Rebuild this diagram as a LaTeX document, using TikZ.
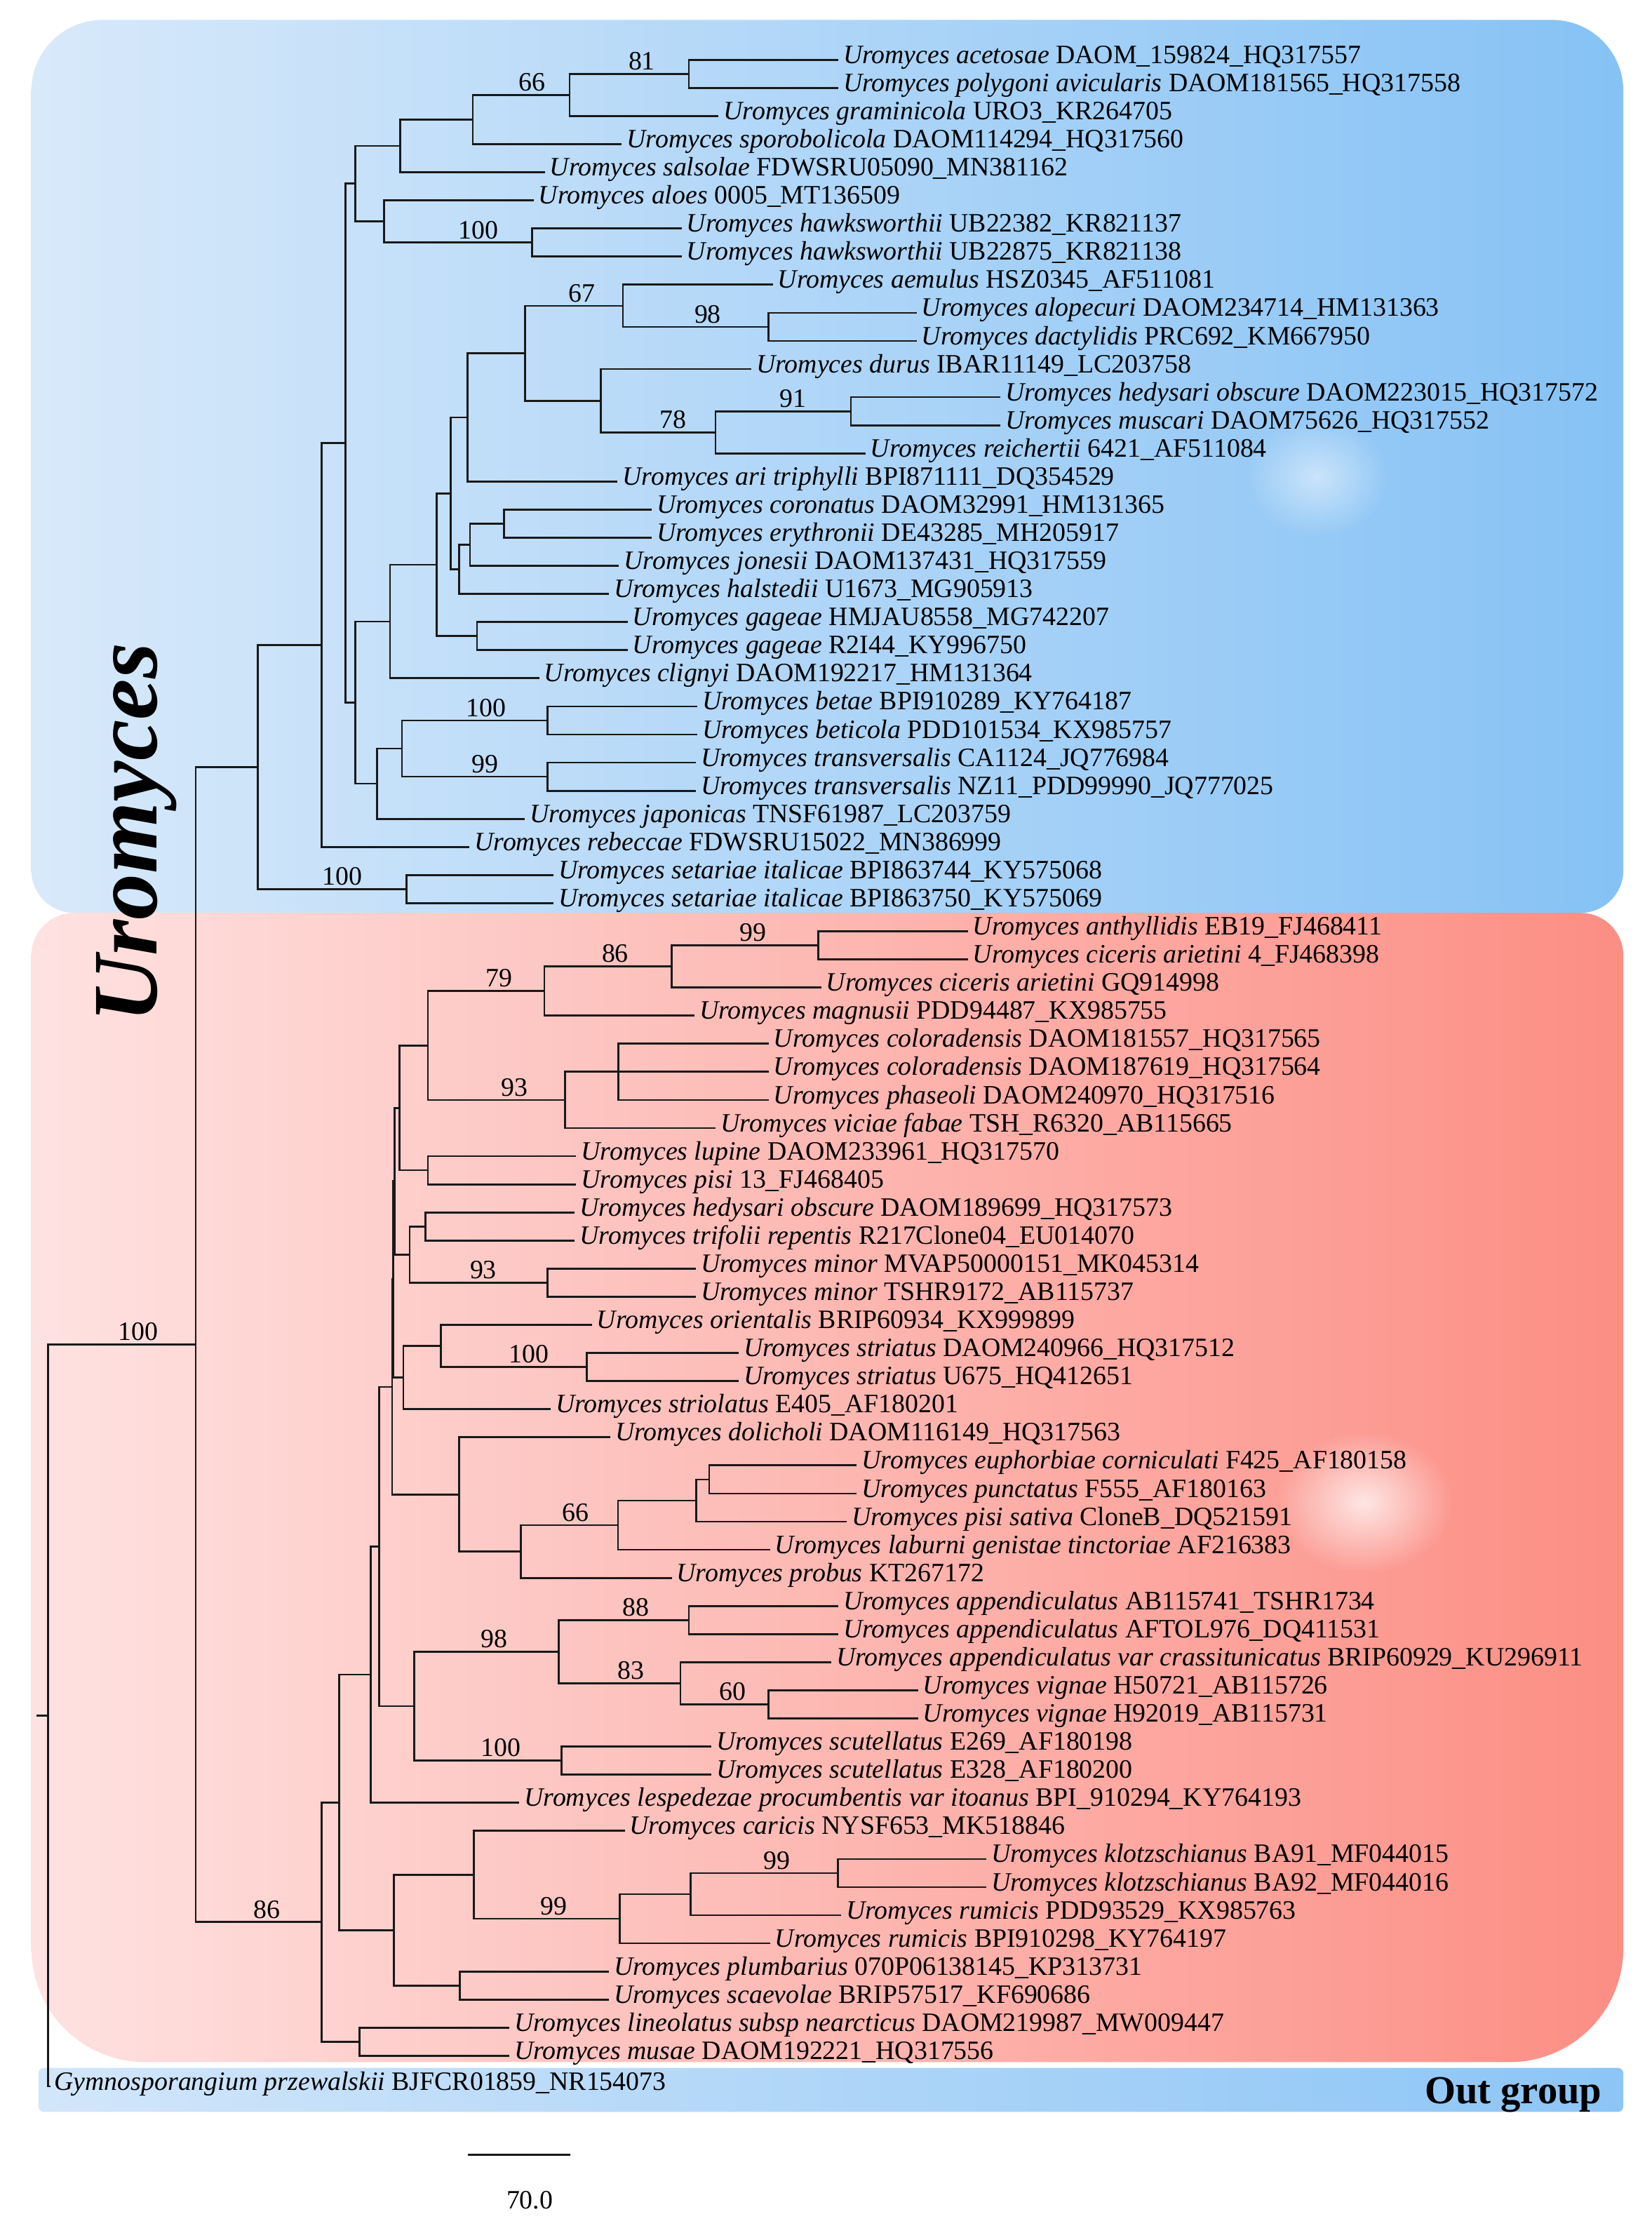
\documentclass[tikz,border=0pt]{standalone}
\usepackage{fontspec}
\setmainfont{Liberation Serif}
\usetikzlibrary{calc,fadings}
\definecolor{blueL}{RGB}{216,233,250}
\definecolor{blueR}{RGB}{134,194,245}
\definecolor{redL}{RGB}{254,226,225}
\definecolor{redR}{RGB}{252,142,132}
\definecolor{outL}{RGB}{210,230,250}
\definecolor{outR}{RGB}{140,197,246}
\definecolor{treecol}{RGB}{25,25,25}
\tikzfading[name=softblob,inner color=transparent!0,outer color=transparent!100]
\newcommand\fs{\fontsize{18.7}{20}\selectfont}
\newcommand\lf[4]{%
  \coordinate (L#1) at ({#2-4},{42+(#1-1)*19.74});
  \node[lab] (T#1) at (#2,{44.5+(#1-1)*19.74}) {\textit{Uromyces #3} #4};}
\newcommand\inode[4]{%
  \path ($(#3)!0.5!(#4)$) coordinate (tmpmid);
  \path let \p1=(tmpmid) in (#2bp,\y1) coordinate (#1);
  \draw[br] (#1) |- (#3);
  \draw[br] (#1) |- (#4);}
\newcommand\inodeT[5]{%
  \path ($(#3)!0.5!(#5)$) coordinate (tmpmid);
  \path let \p1=(tmpmid) in (#2bp,\y1) coordinate (#1);
  \draw[br] (#1) |- (#3);
  \draw[br] (#1) |- (#4);
  \draw[br] (#1) |- (#5);}
\newcommand\bsl[4]{%
  \path let \p1=(#2) in node[bs] (#1) at (#3bp,{\y1+2.8bp}) {#4};}
\begin{document}
\begin{tikzpicture}[x=1bp,y=-1bp,
  br/.style={line width=1.35bp,draw=treecol,line cap=rect},
  lab/.style={anchor=base west,inner sep=0pt,font=\fs},
  bs/.style={anchor=base,inner sep=0pt,font=\fs}]
\useasboundingbox (0,0) rectangle (1160,1568);
% backgrounds
\shade[left color=blueL,right color=blueR]
  (22,611) -- (22,64) arc[start angle=180,end angle=270,radius=50]
  -- (1090,14) arc[start angle=270,end angle=360,radius=50]
  -- (1140,611) arc[start angle=0,end angle=90,radius=30]
  -- (52,641) arc[start angle=90,end angle=180,radius=30] -- cycle;
\shade[left color=redL,right color=redR]
  (22,671) arc[start angle=180,end angle=270,radius=30]
  -- (1110,641) arc[start angle=270,end angle=360,radius=30]
  -- (1140,1368) arc[start angle=0,end angle=90,radius=80]
  -- (102,1448) arc[start angle=90,end angle=180,radius=80] -- cycle;
\shade[left color=outL,right color=outR,rounded corners=4bp] (27,1452) rectangle (1140,1483);
\fill[white,opacity=0.75,path fading=softblob] (958,1055) ellipse [x radius=62,y radius=50];
\fill[white,opacity=0.5,path fading=softblob] (925,335) ellipse [x radius=50,y radius=42];
% leaves
\lf{1}{592}{acetosae}{DAOM\_159824\_HQ317557}
\lf{2}{592}{polygoni avicularis}{DAOM181565\_HQ317558}
\lf{3}{508}{graminicola}{URO3\_KR264705}
\lf{4}{440}{sporobolicola}{DAOM114294\_HQ317560}
\lf{5}{386}{salsolae}{FDWSRU05090\_MN381162}
\lf{6}{378}{aloes}{0005\_MT136509}
\lf{7}{482}{hawksworthii}{UB22382\_KR821137}
\lf{8}{482}{hawksworthii}{UB22875\_KR821138}
\lf{9}{546}{aemulus}{HSZ0345\_AF511081}
\lf{10}{647}{alopecuri}{DAOM234714\_HM131363}
\lf{11}{647}{dactylidis}{PRC692\_KM667950}
\lf{12}{531}{durus}{IBAR11149\_LC203758}
\lf{13}{706}{hedysari obscure}{DAOM223015\_HQ317572}
\lf{14}{706}{muscari}{DAOM75626\_HQ317552}
\lf{15}{611}{reichertii}{6421\_AF511084}
\lf{16}{437}{ari triphylli}{BPI871111\_DQ354529}
\lf{17}{461}{coronatus}{DAOM32991\_HM131365}
\lf{18}{461}{erythronii}{DE43285\_MH205917}
\lf{19}{438}{jonesii}{DAOM137431\_HQ317559}
\lf{20}{431}{halstedii}{U1673\_MG905913}
\lf{21}{444}{gageae}{HMJAU8558\_MG742207}
\lf{22}{444}{gageae}{R2I44\_KY996750}
\lf{23}{382}{clignyi}{DAOM192217\_HM131364}
\lf{24}{493}{betae}{BPI910289\_KY764187}
\lf{25}{493}{beticola}{PDD101534\_KX985757}
\lf{26}{492}{transversalis}{CA1124\_JQ776984}
\lf{27}{492}{transversalis}{NZ11\_PDD99990\_JQ777025}
\lf{28}{372}{japonicas}{TNSF61987\_LC203759}
\lf{29}{333}{rebeccae}{FDWSRU15022\_MN386999}
\lf{30}{392}{setariae italicae}{BPI863744\_KY575068}
\lf{31}{392}{setariae italicae}{BPI863750\_KY575069}
\lf{32}{683}{anthyllidis}{EB19\_FJ468411}
\lf{33}{683}{ciceris arietini}{4\_FJ468398}
\lf{34}{580}{ciceris arietini}{GQ914998}
\lf{35}{491}{magnusii}{PDD94487\_KX985755}
\lf{36}{543}{coloradensis}{DAOM181557\_HQ317565}
\lf{37}{543}{coloradensis}{DAOM187619\_HQ317564}
\lf{38}{543}{phaseoli}{DAOM240970\_HQ317516}
\lf{39}{506}{viciae fabae}{TSH\_R6320\_AB115665}
\lf{40}{408}{lupine}{DAOM233961\_HQ317570}
\lf{41}{408}{pisi}{13\_FJ468405}
\lf{42}{407}{hedysari obscure}{DAOM189699\_HQ317573}
\lf{43}{407}{trifolii repentis}{R217Clone04\_EU014070}
\lf{44}{492}{minor}{MVAP50000151\_MK045314}
\lf{45}{492}{minor}{TSHR9172\_AB115737}
\lf{46}{419}{orientalis}{BRIP60934\_KX999899}
\lf{47}{522}{striatus}{DAOM240966\_HQ317512}
\lf{48}{522}{striatus}{U675\_HQ412651}
\lf{49}{390}{striolatus}{E405\_AF180201}
\lf{50}{432}{dolicholi}{DAOM116149\_HQ317563}
\lf{51}{605}{euphorbiae corniculati}{F425\_AF180158}
\lf{52}{605}{punctatus}{F555\_AF180163}
\lf{53}{598}{pisi sativa}{CloneB\_DQ521591}
\lf{54}{544}{laburni genistae tinctoriae}{AF216383}
\lf{55}{475}{probus}{KT267172}
\lf{56}{592}{appendiculatus}{AB115741\_TSHR1734}
\lf{57}{592}{appendiculatus}{AFTOL976\_DQ411531}
\lf{58}{587}{appendiculatus var crassitunicatus}{BRIP60929\_KU296911}
\lf{59}{648}{vignae}{H50721\_AB115726}
\lf{60}{648}{vignae}{H92019\_AB115731}
\lf{61}{503}{scutellatus}{E269\_AF180198}
\lf{62}{503}{scutellatus}{E328\_AF180200}
\lf{63}{368}{lespedezae procumbentis var itoanus}{BPI\_910294\_KY764193}
\lf{64}{442}{caricis}{NYSF653\_MK518846}
\lf{65}{696}{klotzschianus}{BA91\_MF044015}
\lf{66}{696}{klotzschianus}{BA92\_MF044016}
\lf{67}{594}{rumicis}{PDD93529\_KX985763}
\lf{68}{544}{rumicis}{BPI910298\_KY764197}
\lf{69}{431}{plumbarius}{070P06138145\_KP313731}
\lf{70}{431}{scaevolae}{BRIP57517\_KF690686}
\lf{71}{361}{lineolatus subsp nearcticus}{DAOM219987\_MW009447}
\lf{72}{361}{musae}{DAOM192221\_HQ317556}
\coordinate (LG) at (35,1465);
\node[lab] (TG) at (38,1467.5) {\textit{Gymnosporangium przewalskii} BJFCR01859\_NR154073};
% internal nodes, top clade
\inode{n81}{483.8}{L1}{L2}
\inode{n66}{400}{n81}{L3}
\inode{nSp}{332}{n66}{L4}
\inode{nSa}{281}{nSp}{L5}
\inode{nHw}{373.5}{L7}{L8}
\inode{nAl}{269.6}{L6}{nHw}
\inode{nC}{249.4}{nSa}{nAl}
\inode{n98}{539.8}{L10}{L11}
\inode{n67}{437.4}{L9}{n98}
\inode{n91}{597.5}{L13}{L14}
\inode{n78}{502.4}{n91}{L15}
\inode{nO}{422}{L12}{n78}
\inode{nM}{368.6}{n67}{nO}
\inode{nJ}{328.4}{nM}{L16}
\inode{nCo}{353.8}{L17}{L18}
\inode{nL}{330}{nCo}{L19}
\inode{nK}{322.5}{nL}{L20}
\inode{nI}{316.4}{nJ}{nK}
\inode{nGa}{335}{L21}{L22}
\inode{nH}{306.5}{nI}{nGa}
\inode{nF}{273.9}{nH}{L23}
\inode{nBe}{384.4}{L24}{L25}
\inode{nTr}{384.4}{L26}{L27}
\inode{nP}{282.3}{nBe}{nTr}
\inode{nG}{264.6}{nP}{L28}
\inode{nE}{249.4}{nF}{nG}
\inode{nD}{242.5}{nC}{nE}
\inode{nB}{225.7}{nD}{L29}
\inode{nSe}{285.5}{L30}{L31}
\inode{nA}{181}{nB}{nSe}
% bottom clade
\inode{n99a}{574.6}{L32}{L33}
\inode{n86a}{471.7}{n99a}{L34}
\inode{n79}{382.3}{n86a}{L35}
\inodeT{nTri}{434.2}{L36}{L37}{L38}
\inode{n93a}{396.7}{nTri}{L39}
\inode{nCl}{300.5}{n79}{n93a}
\inode{nLu}{300.5}{L40}{L41}
\inode{nNQ}{280.7}{nCl}{nLu}
\inode{nHe}{298.7}{L42}{L43}
\inode{n93b}{384.6}{L44}{L45}
\inode{nHM}{287.7}{nHe}{n93b}
\inode{nP1}{277.2}{nNQ}{nHM}
\inode{nSt}{412}{L47}{L48}
\inode{nOr}{309.7}{L46}{nSt}
\inode{nOS}{283.3}{nOr}{L49}
\inode{nP2}{276.0}{nP1}{nOS}
\inode{nEu}{498}{L51}{L52}
\inode{nPs}{488.8}{nEu}{L53}
\inode{n66b}{434}{nPs}{L54}
\inode{nPr}{365.8}{n66b}{L55}
\inode{nDo}{322.5}{L50}{nPr}
\inode{nP3}{275.4}{nP2}{nDo}
\inode{n88}{483.8}{L56}{L57}
\inode{n60}{539.8}{L59}{L60}
\inode{n83}{477.8}{L58}{n60}
\inode{n98b}{392.3}{n88}{n83}
\inode{n100s}{394.4}{L61}{L62}
\inode{nAA}{291}{n98b}{n100s}
\inode{nY1}{266.1}{nP3}{nAA}
\inode{nS}{260.2}{nY1}{L63}
\inode{n99k}{588.3}{L65}{L66}
\inode{nX1}{484.9}{n99k}{L67}
\inode{nW}{435.2}{nX1}{L68}
\inode{nU}{332.8}{L64}{nW}
\inode{nV}{323}{L69}{L70}
\inode{nT}{276.7}{nU}{nV}
\inode{nQ}{238.3}{nS}{nT}
\inode{nR}{252.5}{L71}{L72}
\inode{n86b}{225.7}{nQ}{nR}
\inode{nU100}{137.5}{nA}{n86b}
\inode{root}{33.7}{nU100}{LG}
\path let \p1=(root) in (26.3bp,\y1) coordinate (rootstub);
\draw[br] (rootstub) -- (root);
% bootstrap values
\bsl{b1}{n81}{450.7}{81}
\bsl{b2}{n66}{373.5}{66}
\bsl{b3}{nHw}{336}{100}
\bsl{b4}{n67}{408.8}{67}
\bsl{b5}{n98}{497}{98}
\bsl{b6}{n91}{557}{91}
\bsl{b7}{n78}{472.6}{78}
\bsl{b8}{nBe}{341.5}{100}
\bsl{b9}{nTr}{340.5}{99}
\bsl{b10}{nSe}{240.5}{100}
\bsl{b11}{n99a}{528.8}{99}
\bsl{b12}{n86a}{432}{86}
\bsl{b13}{n79}{350.4}{79}
\bsl{b14}{n93a}{361.5}{93}
\bsl{b15}{n93b}{339.4}{93}
\bsl{b16}{nSt}{371.4}{100}
\bsl{b17}{n66b}{404.3}{66}
\bsl{b18}{n88}{446.4}{88}
\bsl{b19}{n98b}{347.2}{98}
\bsl{b20}{n83}{443}{83}
\bsl{b21}{n60}{514.5}{60}
\bsl{b22}{n100s}{351.5}{100}
\bsl{b23}{n99k}{545.4}{99}
\bsl{b24}{nW}{388.8}{99}
\bsl{b25}{nU100}{96.9}{100}
\bsl{b26}{n86b}{187.6}{86}
% group labels
\node[rotate=90,anchor=base west,inner sep=0pt,font=\fontsize{65}{70}\selectfont\bfseries\itshape] (grp) at (110,718) {Uromyces};
\node[anchor=base east,inner sep=0pt,font=\fontsize{28}{30}\selectfont\bfseries] (og) at (1125,1477) {Out group};
% scale bar
\coordinate (sbA) at (329,1513);
\coordinate (sbB) at (400,1513);
\draw[br] (sbA) -- (sbB);
\node[anchor=base,inner sep=0pt,font=\fs] (sbl) at (372,1551) {70.0};
\end{tikzpicture}
\end{document}
